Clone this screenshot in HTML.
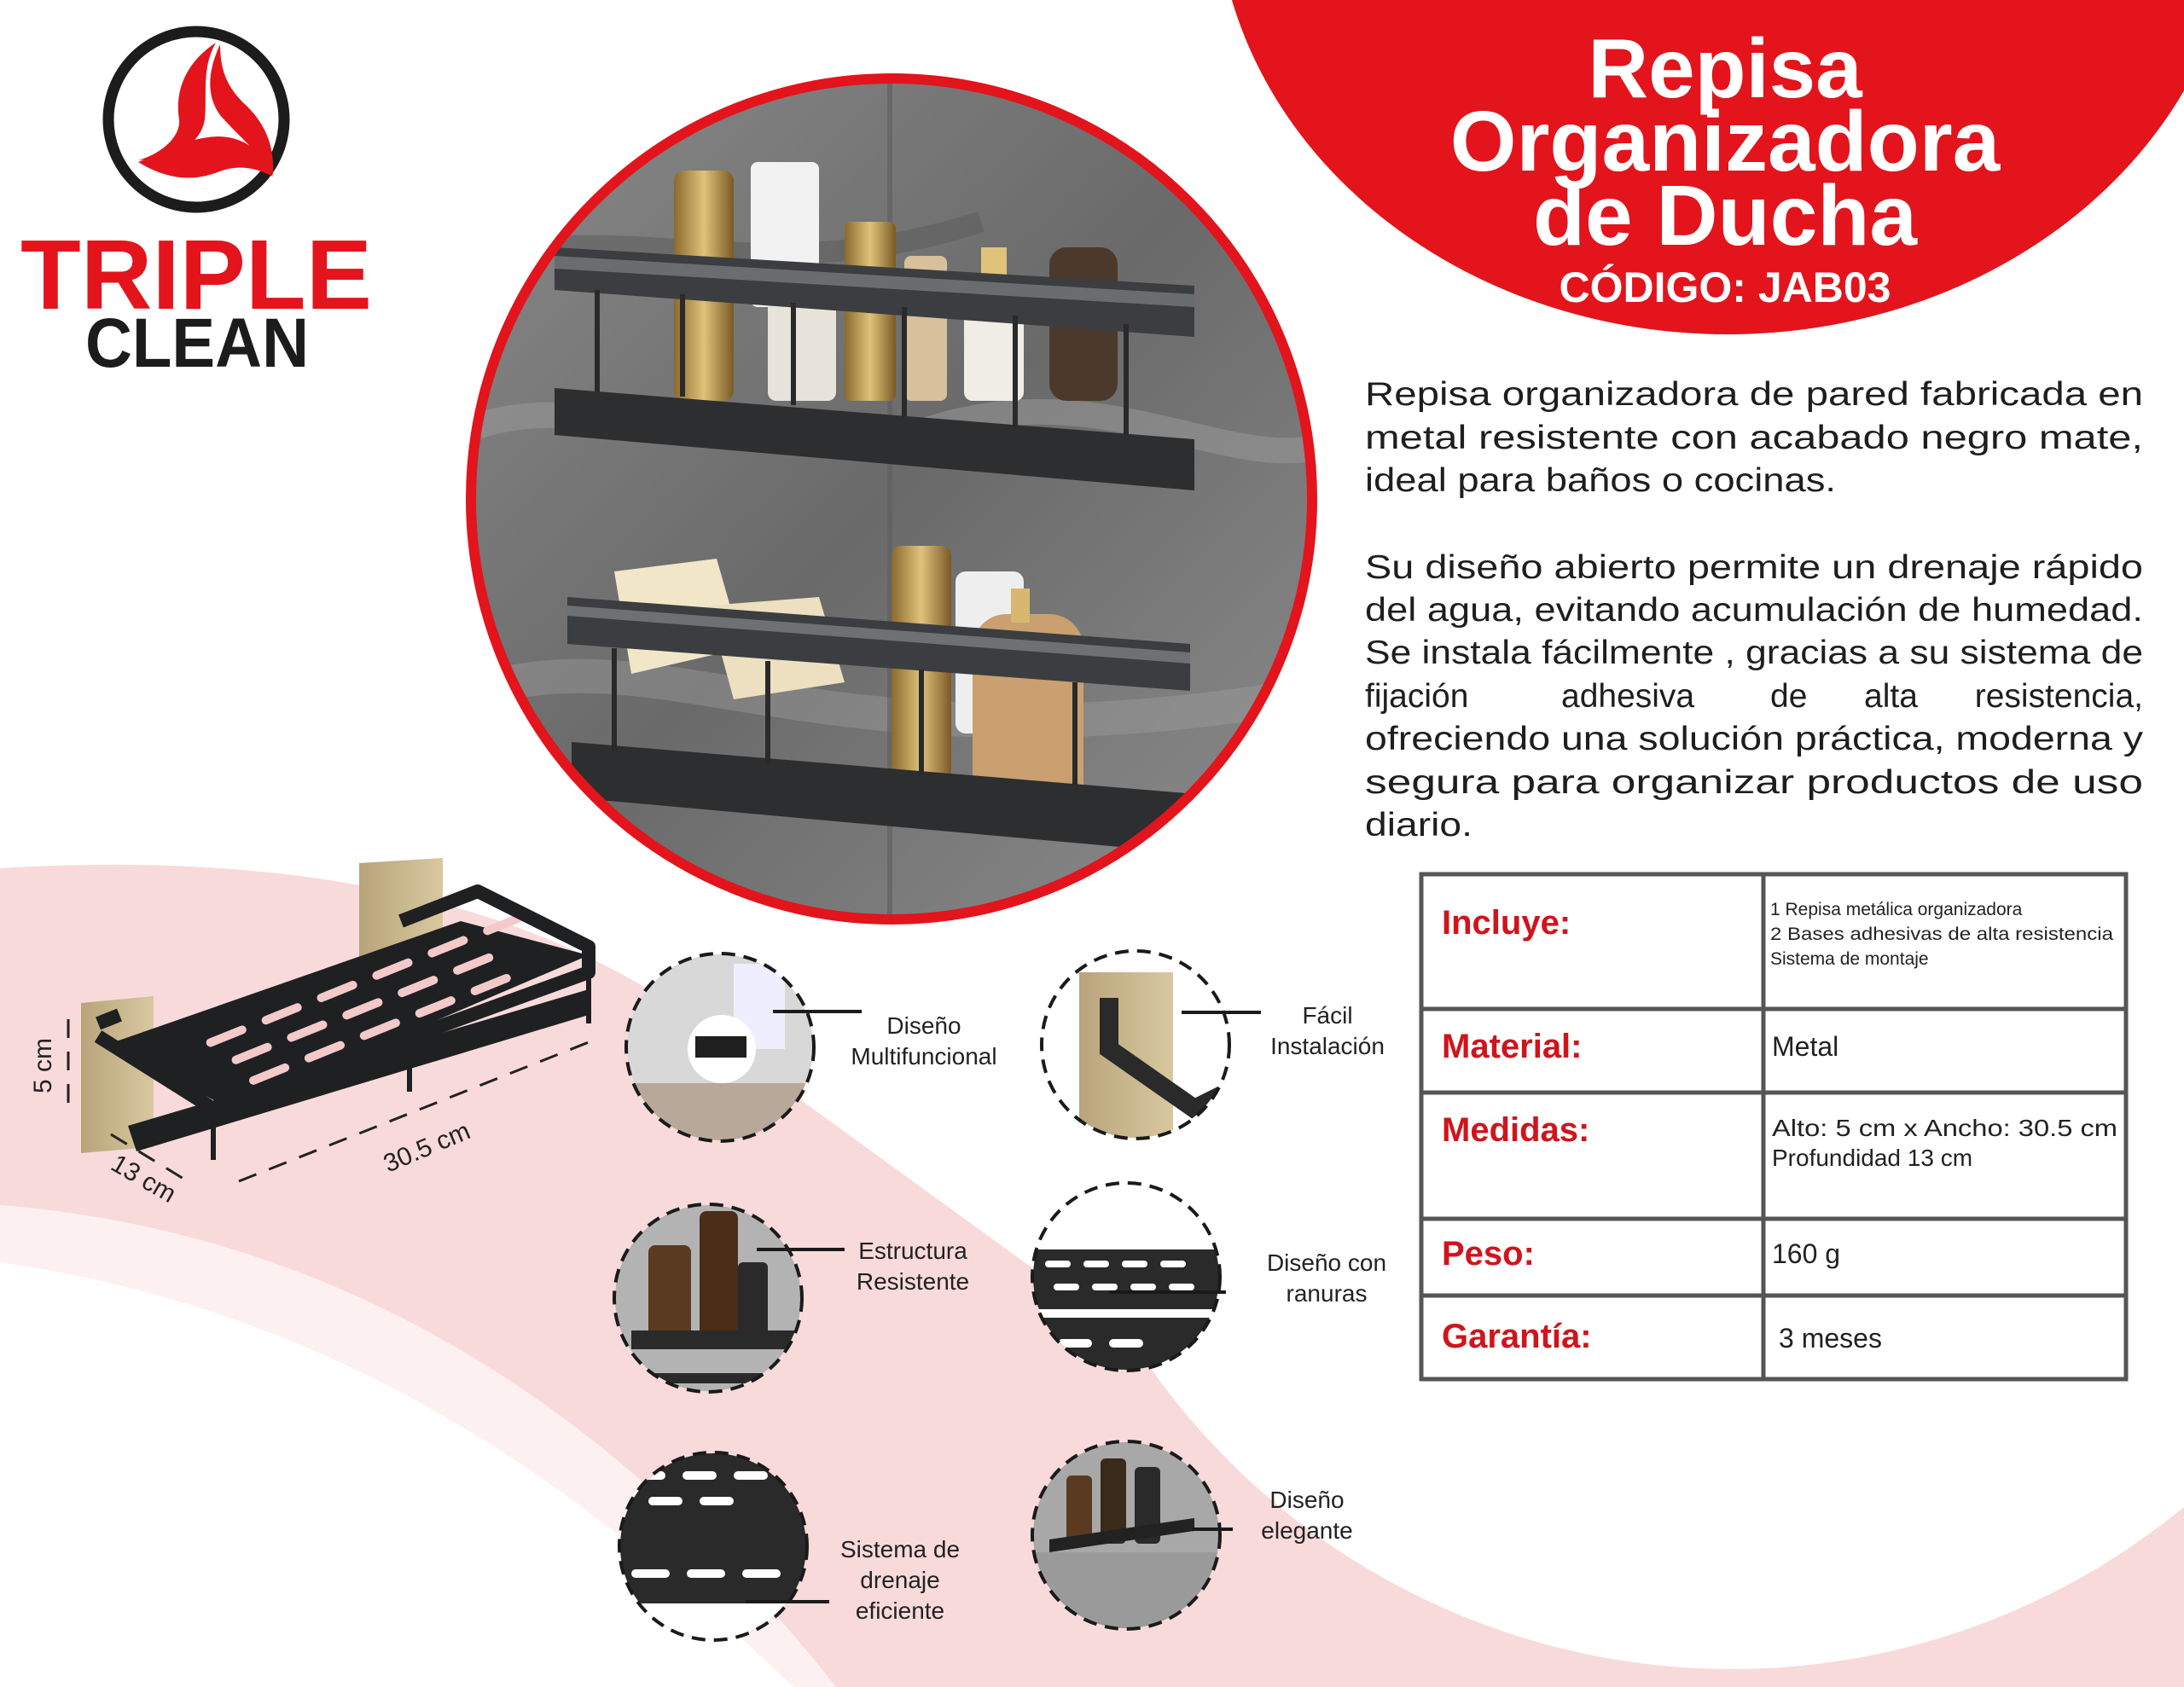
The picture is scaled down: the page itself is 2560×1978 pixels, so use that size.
<!DOCTYPE html>
<html><head><meta charset="utf-8"><style>
html,body{margin:0;padding:0;background:#fff;}
svg{display:block;}
.t{font-family:"Liberation Sans",sans-serif;}
</style></head><body>
<svg width="2560" height="1978" viewBox="0 0 2560 1978" xmlns="http://www.w3.org/2000/svg" class="t">
<defs>
<clipPath id="big"><circle cx="1045" cy="585" r="493"/></clipPath>
<clipPath id="c1"><circle cx="844" cy="1228" r="109"/></clipPath>
<clipPath id="c2"><circle cx="1331" cy="1225" r="109"/></clipPath>
<clipPath id="c3"><circle cx="830" cy="1522" r="109"/></clipPath>
<clipPath id="c4"><circle cx="1320" cy="1497" r="109"/></clipPath>
<clipPath id="c5"><circle cx="836" cy="1813" r="109"/></clipPath>
<clipPath id="c6"><circle cx="1320" cy="1800" r="109"/></clipPath>
<linearGradient id="marble" x1="0" y1="0" x2="1" y2="1">
<stop offset="0" stop-color="#8a8a8a"/><stop offset="0.5" stop-color="#6a6a6a"/><stop offset="1" stop-color="#8e8e8e"/></linearGradient>
<linearGradient id="gold" x1="0" x2="1"><stop offset="0" stop-color="#8a6a2e"/><stop offset="0.5" stop-color="#e0c27a"/><stop offset="1" stop-color="#7a5a24"/></linearGradient>
<linearGradient id="plate" x1="0" x2="1"><stop offset="0" stop-color="#b8a47a"/><stop offset="1" stop-color="#d8c8a0"/></linearGradient>
</defs>

<!-- pink wave -->
<path d="M0,1018 C300,1000 560,1040 760,1160 L1380,1610 L2560,1400 L2560,1978 L980,1978 C760,1700 450,1450 0,1413 Z" fill="#f9dada"/>
<path d="M0,1413 C450,1450 760,1700 980,1978 L930,1978 C700,1760 420,1540 0,1480 Z" fill="#fdf0f0"/>
<circle cx="2030" cy="1123" r="834" fill="#fff"/>

<!-- red header ellipse -->
<ellipse cx="2025" cy="-130" rx="600" ry="522" fill="#e3141c"/>
<g fill="#fff" font-weight="bold" text-anchor="middle">
<text x="2022" y="114" font-size="98">Repisa</text>
<text x="2022" y="200" font-size="100">Organizadora</text>
<text x="2022" y="287" font-size="100">de Ducha</text>
<text x="2022" y="354" font-size="50">CÓDIGO: JAB03</text>
</g>

<!-- logo -->
<circle cx="230" cy="140" r="103" fill="#fff" stroke="#1c1c1c" stroke-width="13"/>
<g fill="#e3141c">
<path d="M253,50 C215,75 205,110 210,140 C212,160 190,180 162,188 C205,185 235,170 240,140 C243,110 236,80 253,50 Z"/>
<path d="M258,52 C245,80 240,110 258,135 C280,160 305,180 320,205 C322,170 310,145 290,125 C268,105 258,85 258,52 Z"/>
<path d="M162,190 C190,180 215,162 255,160 C290,160 310,182 320,207 C300,197 280,192 255,202 C220,215 190,207 162,190 Z"/>
</g>
<text x="24" y="362" font-size="116" font-weight="bold" fill="#e3141c" textLength="412" lengthAdjust="spacingAndGlyphs">TRIPLE</text>
<text x="100" y="430" font-size="82" font-weight="bold" fill="#1c1c1c" textLength="262" lengthAdjust="spacingAndGlyphs">CLEAN</text>

<!-- big photo circle -->
<g clip-path="url(#big)">
<rect x="540" y="80" width="1010" height="1010" fill="url(#marble)"/>
<path d="M560,500 C700,450 900,560 1100,500 C1300,440 1450,560 1560,520" stroke="#9b9b9b" stroke-width="30" fill="none" opacity="0.5"/>
<path d="M560,300 C760,260 900,340 1150,260" stroke="#5a5a5a" stroke-width="25" fill="none" opacity="0.5"/>
<path d="M600,800 C800,760 1000,900 1500,820" stroke="#a0a0a0" stroke-width="40" fill="none" opacity="0.4"/>
<rect x="1040" y="80" width="6" height="1010" fill="#5e5e5e" opacity="0.6"/>
<rect x="790" y="200" width="70" height="270" rx="12" fill="url(#gold)"/>
<rect x="880" y="190" width="80" height="170" rx="8" fill="#f2f2f2"/>
<rect x="900" y="330" width="80" height="140" rx="10" fill="#e8e3da"/>
<rect x="990" y="260" width="60" height="210" rx="8" fill="url(#gold)"/>
<rect x="1060" y="300" width="50" height="170" rx="8" fill="#d8c09a"/>
<rect x="1130" y="330" width="70" height="140" rx="10" fill="#f0ece6"/>
<rect x="1230" y="290" width="80" height="180" rx="20" fill="#4b3a2c"/>
<rect x="1150" y="290" width="30" height="50" fill="#e0c27a"/>
<polygon points="650,290 1400,335 1400,395 650,340" fill="#3b3d40"/>
<polygon points="650,300 1400,345 1400,360 650,315" fill="#6a6d70"/>
<polygon points="650,455 1400,515 1400,575 650,510" fill="#2c2e30"/>
<g stroke="#2a2a2a" stroke-width="6"><line x1="700" y1="340" x2="700" y2="460"/><line x1="800" y1="345" x2="800" y2="465"/><line x1="930" y1="355" x2="930" y2="475"/><line x1="1060" y1="360" x2="1060" y2="490"/><line x1="1190" y1="370" x2="1190" y2="500"/><line x1="1320" y1="380" x2="1320" y2="510"/></g>
<polygon points="720,670 840,655 870,760 740,790" fill="#f1e6c8"/>
<polygon points="830,710 960,700 990,800 860,820" fill="#ece0c0"/>
<rect x="1045" y="640" width="70" height="300" rx="12" fill="url(#gold)"/>
<rect x="1120" y="670" width="80" height="190" rx="12" fill="#eeeeee"/>
<rect x="1140" y="720" width="130" height="240" rx="40" fill="#caa070"/>
<rect x="1185" y="690" width="22" height="40" fill="#d8b870"/>
<polygon points="665,700 1395,755 1395,810 665,755" fill="#3b3d40"/>
<polygon points="665,710 1395,765 1395,778 665,722" fill="#6e7174"/>
<polygon points="670,870 1390,930 1390,1000 670,935" fill="#2c2e30"/>
<g stroke="#2a2a2a" stroke-width="6"><line x1="720" y1="760" x2="720" y2="880"/><line x1="900" y1="775" x2="900" y2="895"/><line x1="1080" y1="785" x2="1080" y2="910"/><line x1="1260" y1="800" x2="1260" y2="920"/></g>
</g>
<circle cx="1045" cy="585" r="493" fill="none" stroke="#e3141c" stroke-width="12"/>

<!-- paragraphs -->
<g font-size="39" fill="#1e1e1e">
<text x="1600" y="475" textLength="912" lengthAdjust="spacingAndGlyphs">Repisa organizadora de pared fabricada en</text>
<text x="1600" y="526" textLength="912" lengthAdjust="spacingAndGlyphs">metal resistente con acabado negro mate,</text>
<text x="1600" y="576" textLength="552" lengthAdjust="spacingAndGlyphs">ideal para baños o cocinas.</text>
<text x="1600" y="678" textLength="912" lengthAdjust="spacingAndGlyphs">Su diseño abierto permite un drenaje rápido</text>
<text x="1600" y="728" textLength="912" lengthAdjust="spacingAndGlyphs">del agua, evitando acumulación de humedad.</text>
<text x="1600" y="778" textLength="912" lengthAdjust="spacingAndGlyphs">Se instala fácilmente , gracias a su sistema de</text>
<text x="1600" y="829">fijación</text>
<text x="1830" y="829">adhesiva</text>
<text x="2075" y="829">de</text>
<text x="2185" y="829">alta</text>
<text x="2512" y="829" text-anchor="end">resistencia,</text>
<text x="1600" y="879" textLength="912" lengthAdjust="spacingAndGlyphs">ofreciendo una solución práctica, moderna y</text>
<text x="1600" y="930" textLength="912" lengthAdjust="spacingAndGlyphs">segura para organizar productos de uso</text>
<text x="1600" y="980" textLength="126" lengthAdjust="spacingAndGlyphs">diario.</text>
</g>

<!-- table -->
<g stroke="#555" stroke-width="5" fill="none">
<rect x="1666" y="1025" width="826" height="592" fill="#fff"/>
<line x1="2067" y1="1025" x2="2067" y2="1617"/>
<line x1="1666" y1="1183" x2="2492" y2="1183"/>
<line x1="1666" y1="1281" x2="2492" y2="1281"/>
<line x1="1666" y1="1429" x2="2492" y2="1429"/>
<line x1="1666" y1="1519" x2="2492" y2="1519"/>
</g>
<g font-size="40" font-weight="bold" fill="#d0141c">
<text x="1690" y="1095">Incluye:</text>
<text x="1690" y="1240">Material:</text>
<text x="1690" y="1338">Medidas:</text>
<text x="1690" y="1483">Peso:</text>
<text x="1690" y="1580">Garantía:</text>
</g>
<g font-size="21" fill="#222">
<text x="2075" y="1073">1 Repisa metálica organizadora</text>
<text x="2075" y="1102" textLength="402" lengthAdjust="spacingAndGlyphs">2 Bases adhesivas de alta resistencia</text>
<text x="2075" y="1131">Sistema de montaje</text>
</g>
<g font-size="32" fill="#222">
<text x="2077" y="1238">Metal</text>
<text x="2077" y="1332" font-size="28" textLength="405" lengthAdjust="spacingAndGlyphs">Alto: 5 cm x Ancho: 30.5 cm</text>
<text x="2077" y="1367" font-size="28">Profundidad  13 cm</text>
<text x="2077" y="1481">160 g</text>
<text x="2085" y="1580">3 meses</text>
</g>

<!-- shelf illustration -->
<polygon points="95,1176 180,1168 180,1345 95,1352" fill="url(#plate)"/>
<polygon points="421,1012 519,1006 519,1142 421,1148" fill="url(#plate)"/>
<polygon points="125,1225 540,1080 690,1120 270,1300" fill="#1f2022"/>
<g fill="#f3c9c9">
<g transform="translate(270,1240) rotate(-22)">
<rect x="0" y="0" width="50" height="10" rx="5"/><rect x="70" y="0" width="50" height="10" rx="5"/><rect x="140" y="0" width="50" height="10" rx="5"/><rect x="210" y="0" width="50" height="10" rx="5"/><rect x="280" y="0" width="50" height="10" rx="5"/>
<rect x="-20" y="-30" width="50" height="10" rx="5"/><rect x="50" y="-30" width="50" height="10" rx="5"/><rect x="120" y="-30" width="50" height="10" rx="5"/><rect x="190" y="-30" width="50" height="10" rx="5"/><rect x="260" y="-30" width="50" height="10" rx="5"/><rect x="330" y="-30" width="50" height="10" rx="5"/>
<rect x="10" y="30" width="50" height="10" rx="5"/><rect x="80" y="30" width="50" height="10" rx="5"/><rect x="150" y="30" width="50" height="10" rx="5"/><rect x="220" y="30" width="50" height="10" rx="5"/><rect x="290" y="30" width="50" height="10" rx="5"/>
</g></g>
<g stroke="#1f2022" stroke-width="16" fill="none" stroke-linejoin="round">
<polyline points="115,1215 250,1300 690,1140 690,1110 560,1045 470,1080"/>
<line x1="115" y1="1200" x2="140" y2="1190"/>
</g>
<g stroke="#1f2022" stroke-width="6"><line x1="250" y1="1300" x2="250" y2="1360"/><line x1="480" y1="1220" x2="480" y2="1280"/><line x1="690" y1="1140" x2="690" y2="1200"/></g>
<polygon points="150,1320 690,1160 690,1190 160,1350" fill="#1f2022"/>
<g stroke="#222" stroke-width="3" fill="none" stroke-dasharray="22,16">
<line x1="280" y1="1385" x2="690" y2="1222"/>
<line x1="130" y1="1330" x2="220" y2="1385"/>
<line x1="80" y1="1195" x2="80" y2="1300"/>
</g>
<g font-size="30" fill="#222">
<text transform="translate(60,1282) rotate(-90)">5 cm</text>
<text transform="translate(128,1370) rotate(30)">13 cm</text>
<text transform="translate(455,1375) rotate(-23)">30.5 cm</text>
</g>

<!-- small circles -->
<g clip-path="url(#c1)"><rect x="730" y="1115" width="230" height="230" fill="#d8d8d8"/><rect x="730" y="1270" width="230" height="80" fill="#b8a89a"/><rect x="860" y="1130" width="60" height="100" fill="#eef"/><circle cx="846" cy="1230" r="40" fill="#fff"/><rect x="815" y="1215" width="60" height="25" fill="#1f1f1f"/></g>
<g clip-path="url(#c2)"><rect x="1220" y="1115" width="230" height="230" fill="#fff"/><rect x="1265" y="1140" width="110" height="200" fill="url(#plate)"/><polyline points="1300,1170 1300,1230 1400,1300 1440,1280" stroke="#2a2a2a" stroke-width="22" fill="none"/></g>
<g clip-path="url(#c3)"><rect x="720" y="1410" width="230" height="230" fill="#b3b3b3"/><rect x="760" y="1460" width="50" height="110" rx="8" fill="#5a3a20"/><rect x="820" y="1420" width="45" height="150" rx="8" fill="#4a2e18"/><rect x="865" y="1480" width="35" height="90" rx="6" fill="#2a2a2a"/><rect x="740" y="1560" width="200" height="22" fill="#2a2a2a"/><rect x="750" y="1610" width="190" height="12" fill="#2a2a2a"/></g>
<g clip-path="url(#c4)"><rect x="1210" y="1385" width="230" height="230" fill="#fff"/><rect x="1210" y="1465" width="230" height="70" fill="#2a2a2a"/><rect x="1210" y="1545" width="230" height="70" fill="#2a2a2a"/><g fill="#fff"><rect x="1225" y="1478" width="30" height="8" rx="4"/><rect x="1270" y="1478" width="30" height="8" rx="4"/><rect x="1315" y="1478" width="30" height="8" rx="4"/><rect x="1360" y="1478" width="30" height="8" rx="4"/><rect x="1235" y="1505" width="30" height="8" rx="4"/><rect x="1280" y="1505" width="30" height="8" rx="4"/><rect x="1325" y="1505" width="30" height="8" rx="4"/><rect x="1370" y="1505" width="30" height="8" rx="4"/><rect x="1240" y="1570" width="40" height="10" rx="5"/><rect x="1300" y="1570" width="40" height="10" rx="5"/></g></g>
<g clip-path="url(#c5)"><rect x="720" y="1700" width="235" height="240" fill="#2a2a2a"/><rect x="720" y="1880" width="235" height="60" fill="#fff"/><g fill="#fff"><rect x="740" y="1725" width="40" height="10" rx="5"/><rect x="800" y="1725" width="40" height="10" rx="5"/><rect x="860" y="1725" width="40" height="10" rx="5"/><rect x="760" y="1755" width="40" height="10" rx="5"/><rect x="820" y="1755" width="40" height="10" rx="5"/><rect x="740" y="1840" width="45" height="10" rx="5"/><rect x="805" y="1840" width="45" height="10" rx="5"/><rect x="870" y="1840" width="45" height="10" rx="5"/></g></g>
<g clip-path="url(#c6)"><rect x="1210" y="1690" width="230" height="230" fill="#a8a8a8"/><rect x="1210" y="1820" width="230" height="100" fill="#9a9a9a"/><rect x="1250" y="1730" width="30" height="80" rx="6" fill="#5a3a20"/><rect x="1290" y="1710" width="30" height="100" rx="6" fill="#3a2a1a"/><rect x="1330" y="1720" width="30" height="90" rx="6" fill="#2a2a2a"/><polygon points="1230,1805 1400,1780 1400,1795 1230,1820" fill="#222"/></g>
<g fill="none" stroke="#1a1a1a" stroke-width="4" stroke-dasharray="16,10">
<circle cx="844" cy="1228" r="110"/><circle cx="1331" cy="1225" r="110"/><circle cx="830" cy="1522" r="110"/>
<circle cx="1320" cy="1497" r="110"/><circle cx="836" cy="1813" r="110"/><circle cx="1320" cy="1800" r="110"/>
</g>
<g stroke="#1a1a1a" stroke-width="4">
<line x1="906" y1="1186" x2="1010" y2="1186"/>
<line x1="1385" y1="1187" x2="1478" y2="1187"/>
<line x1="887" y1="1465" x2="990" y2="1465"/>
<line x1="1300" y1="1515" x2="1437" y2="1515"/>
<line x1="874" y1="1878" x2="972" y2="1878"/>
<line x1="1397" y1="1793" x2="1445" y2="1793"/>
</g>
<g font-size="28" fill="#222" text-anchor="middle">
<text x="1083" y="1212">Diseño</text><text x="1083" y="1248">Multifuncional</text>
<text x="1556" y="1200">Fácil</text><text x="1556" y="1236">Instalación</text>
<text x="1070" y="1476">Estructura</text><text x="1070" y="1512">Resistente</text>
<text x="1555" y="1490">Diseño con</text><text x="1555" y="1526">ranuras</text>
<text x="1055" y="1826">Sistema de</text><text x="1055" y="1862">drenaje</text><text x="1055" y="1898">eficiente</text>
<text x="1532" y="1768">Diseño</text><text x="1532" y="1804">elegante</text>
</g>
</svg>
</body></html>
